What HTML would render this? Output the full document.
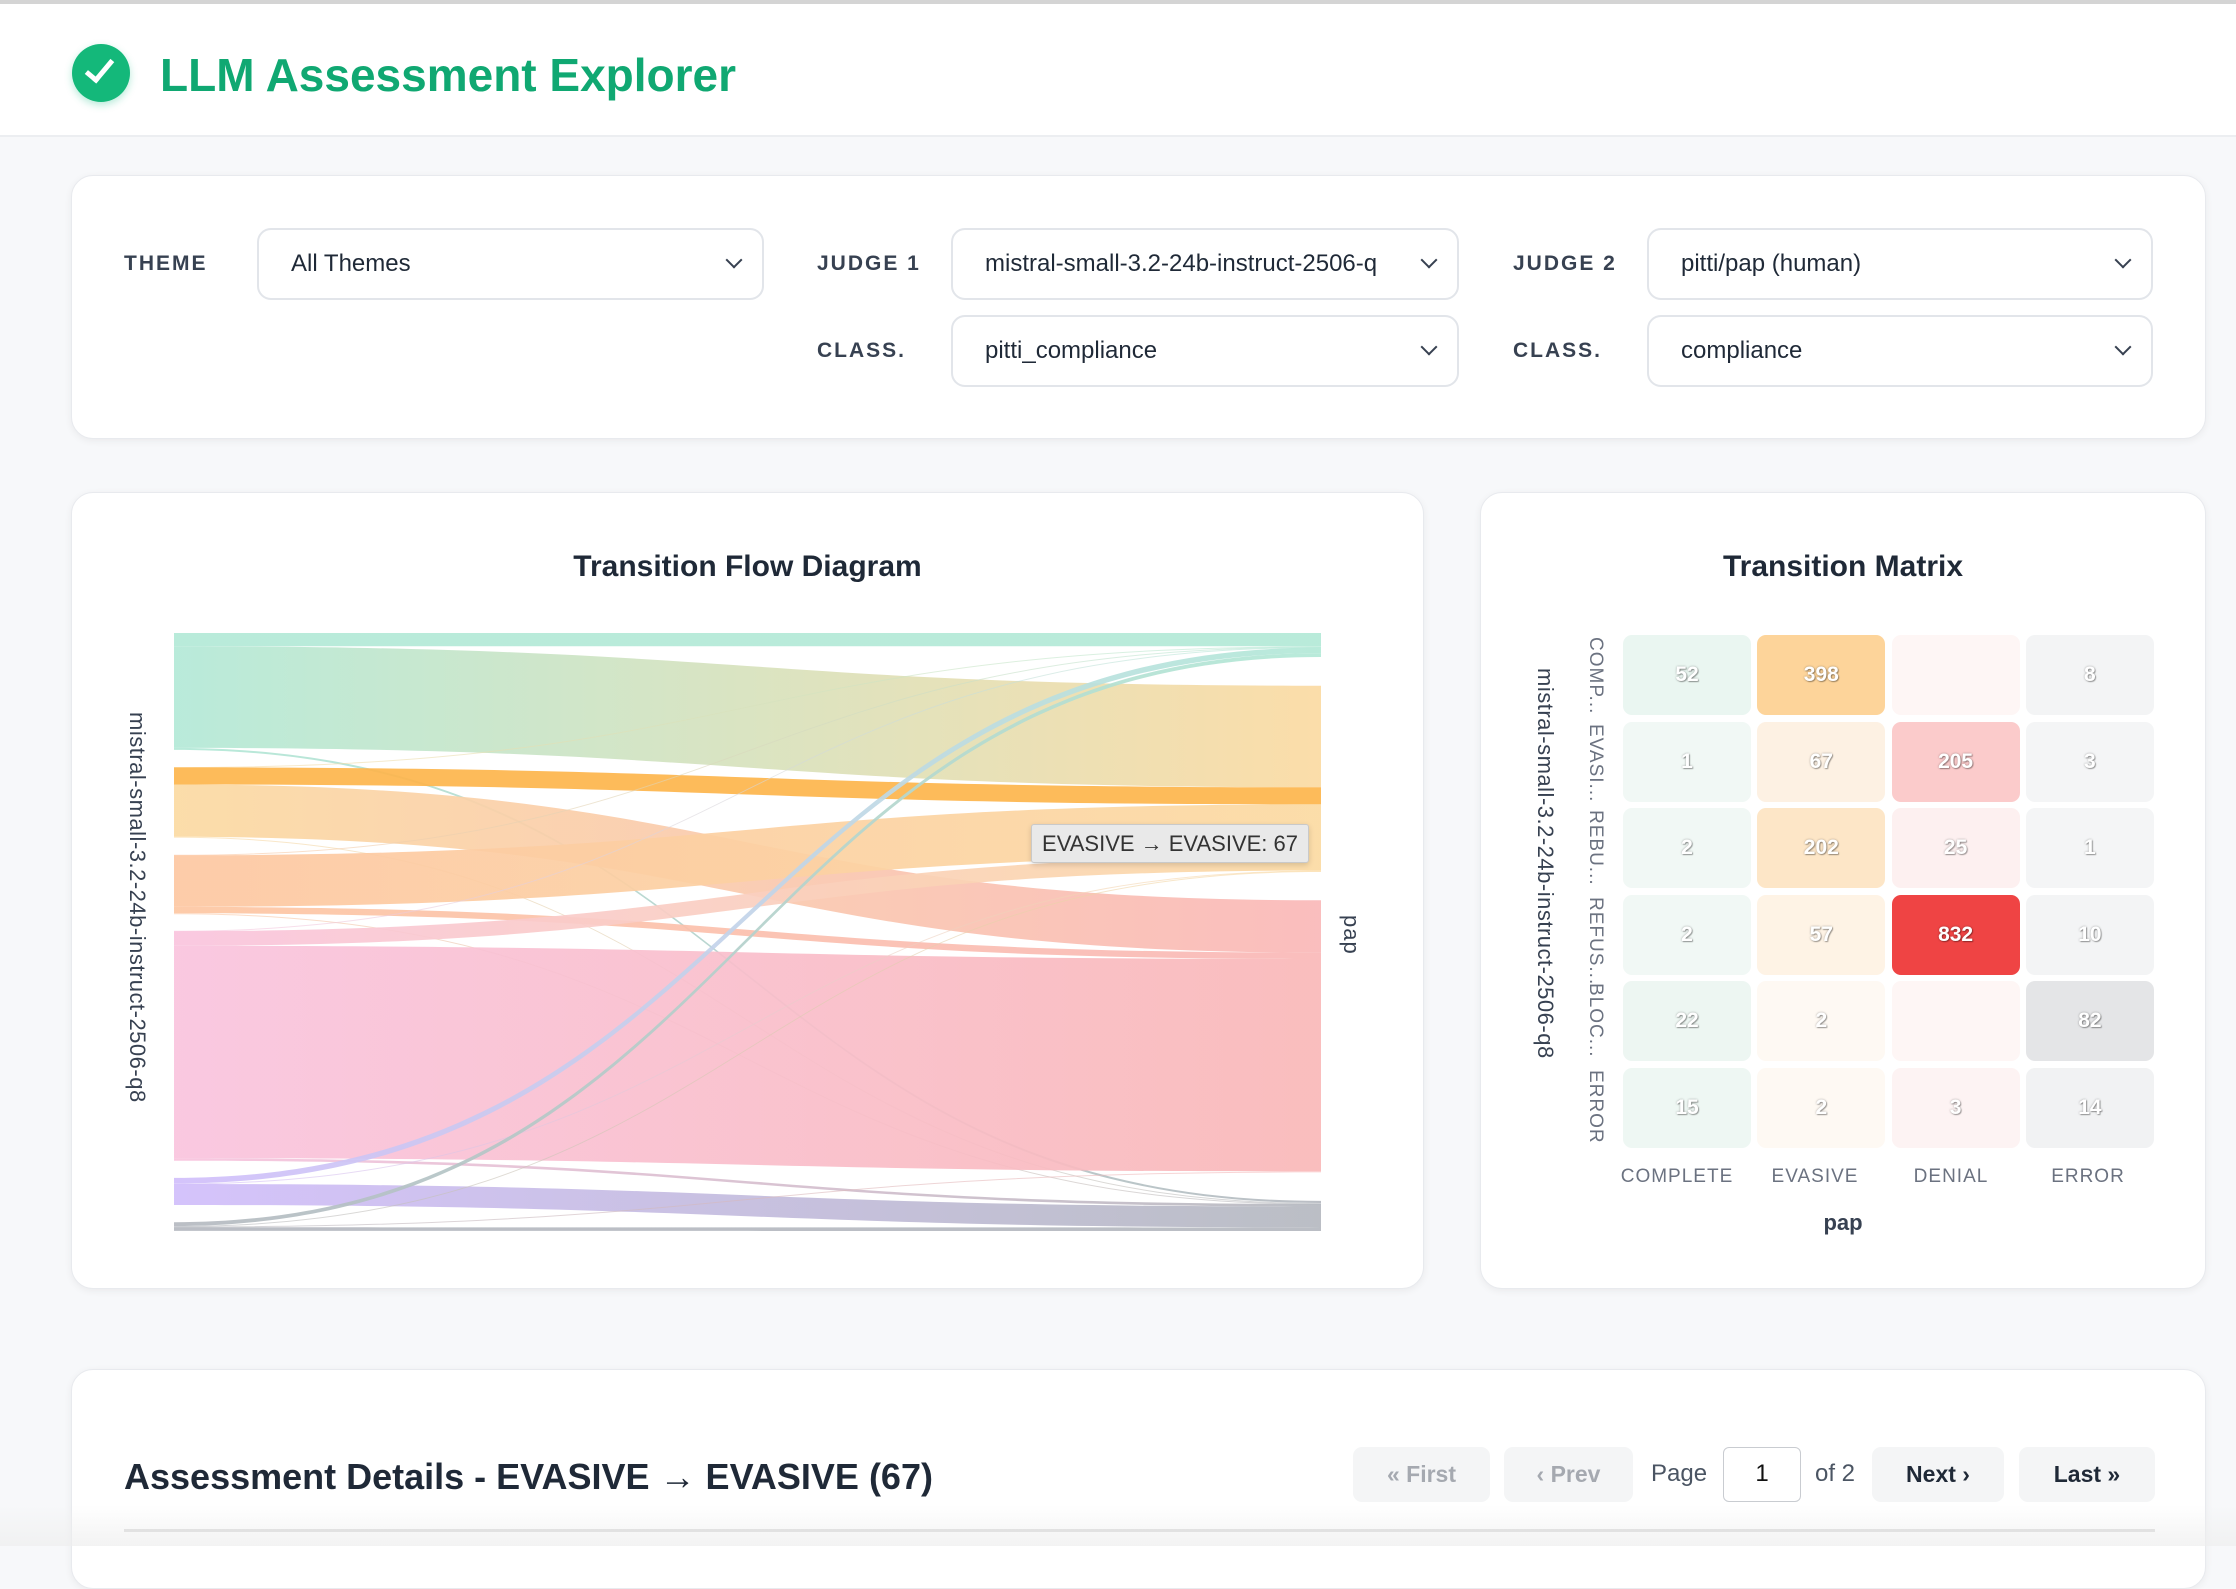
<!DOCTYPE html>
<html><head><meta charset="utf-8">
<style>
*{box-sizing:border-box;margin:0;padding:0}
body{width:2236px;height:1546px;overflow:hidden;background:#f7f8fa;font-family:"Liberation Sans",sans-serif;position:relative;color:#1f2937}
.abs{position:absolute}
.card{position:absolute;background:#fff;border:1px solid #e8eaee;border-radius:22px;box-shadow:0 2px 8px rgba(0,0,0,.06)}
.lbl{position:absolute;font-size:21px;font-weight:700;letter-spacing:2px;color:#374151;line-height:24px}
.sel{position:absolute;height:72px;border:2px solid #e2e5ea;border-radius:14px;background:#fff;font-size:24px;color:#1f2937;padding-left:32px;line-height:68px}
.sel:after{content:"";position:absolute;right:22px;top:24px;width:10px;height:10px;border-right:2px solid #374151;border-bottom:2px solid #374151;transform:rotate(45deg)}
.btn{position:absolute;top:1447px;height:55px;border-radius:9px;background:#f4f5f6;font-size:23px;line-height:55px;text-align:center;font-weight:700}
.cell{position:absolute;width:128px;height:80px;border-radius:9px;font-size:21px;color:#fff;text-align:center;line-height:80px;font-weight:700;text-shadow:0 0 2px rgba(0,0,0,.35),1px 1px 1px rgba(0,0,0,.3)}
.rl{position:absolute;font-size:19px;color:#6b7280;transform-origin:0 0;transform:rotate(90deg);white-space:nowrap;letter-spacing:1px}
.cl{position:absolute;top:1166px;width:134px;text-align:center;font-size:19px;color:#6b7280;letter-spacing:1px;font-weight:500}
.ttl{position:absolute;top:550px;text-align:center;font-size:30px;font-weight:700;color:#1f2937}
</style></head><body>
<div class="abs" style="left:0;top:0;width:2236px;height:137px;background:#fff;border-top:4px solid #d4d4d4;border-bottom:2px solid #eceef1"></div>
<div class="abs" style="left:72px;top:44px;width:58px;height:58px;border-radius:50%;background:#14b87a;box-shadow:0 3px 8px rgba(16,185,129,.3)"></div>
<div class="abs" style="left:92px;top:54px;width:15px;height:28px;border-right:5px solid #fff;border-bottom:5px solid #fff;transform:rotate(40deg)"></div>
<div class="abs" style="left:160px;top:46px;font-size:46px;font-weight:700;color:#10a872;line-height:58px">LLM Assessment Explorer</div>

<div class="card" style="left:71px;top:175px;width:2135px;height:264px"></div>
<div class="lbl" style="left:124px;top:252px">THEME</div>
<div class="sel" style="left:257px;top:228px;width:507px">All Themes</div>
<div class="lbl" style="left:817px;top:252px">JUDGE 1</div>
<div class="sel" style="left:951px;top:228px;width:508px">mistral-small-3.2-24b-instruct-2506-q</div>
<div class="lbl" style="left:1513px;top:252px">JUDGE 2</div>
<div class="sel" style="left:1647px;top:228px;width:506px">pitti/pap (human)</div>
<div class="lbl" style="left:817px;top:339px">CLASS.</div>
<div class="sel" style="left:951px;top:315px;width:508px">pitti_compliance</div>
<div class="lbl" style="left:1513px;top:339px">CLASS.</div>
<div class="sel" style="left:1647px;top:315px;width:506px">compliance</div>

<div class="card" style="left:71px;top:492px;width:1353px;height:797px"></div>
<div class="ttl" style="left:71px;width:1353px">Transition Flow Diagram</div>
<svg id="sk" class="abs" style="left:0;top:0" width="2236" height="1546"></svg>
<div class="rl" style="left:150px;top:712px;font-size:22px;color:#374151;letter-spacing:0.5px">mistral-small-3.2-24b-instruct-2506-q8</div>
<div class="rl" style="left:1364px;top:915px;font-size:22px;color:#374151">pap</div>
<div class="abs" style="left:1031px;top:824px;width:278px;height:39px;background:#e9e9e9;border:1px solid #c9c9c9;border-radius:3px;font-size:22px;line-height:37px;text-align:center;color:#333;box-shadow:0 2px 6px rgba(0,0,0,.15)">EVASIVE → EVASIVE: 67</div>

<div class="card" style="left:1480px;top:492px;width:726px;height:797px"></div>
<div class="ttl" style="left:1480px;width:726px">Transition Matrix</div>
<div id="mx"></div>
<div class="rl" style="left:1558px;top:668px;font-size:22px;color:#374151;letter-spacing:0.5px">mistral-small-3.2-24b-instruct-2506-q8</div>
<div class="cl" style="left:1610px">COMPLETE</div>
<div class="cl" style="left:1748px">EVASIVE</div>
<div class="cl" style="left:1884px">DENIAL</div>
<div class="cl" style="left:2021px">ERROR</div>
<div class="abs" style="left:1480px;top:1210px;width:726px;text-align:center;font-size:22px;font-weight:700;color:#374151">pap</div>

<div class="card" style="left:71px;top:1369px;width:2135px;height:220px"></div>
<div class="abs" style="left:124px;top:1456px;font-size:36px;font-weight:700;color:#1f2937">Assessment Details - EVASIVE → EVASIVE (67)</div>
<div class="btn" style="left:1353px;width:137px;color:#a5a9b0">« First</div>
<div class="btn" style="left:1504px;width:129px;color:#a5a9b0">‹ Prev</div>
<div class="abs" style="left:1651px;top:1460px;font-size:24px;color:#4b5563">Page</div>
<div class="abs" style="left:1723px;top:1447px;width:78px;height:55px;border:1.5px solid #c9ccd1;border-radius:6px;background:#fff;text-align:center;line-height:52px;font-size:24px;color:#111">1</div>
<div class="abs" style="left:1815px;top:1460px;font-size:24px;color:#4b5563">of 2</div>
<div class="btn" style="left:1872px;width:132px;color:#1f2937">Next ›</div>
<div class="btn" style="left:2019px;width:136px;color:#1f2937">Last »</div>
<div class="abs" style="left:124px;top:1529px;width:2031px;height:3px;background:#d8d8d8"></div>
<div class="abs" style="left:0;top:1505px;width:2236px;height:41px;background:linear-gradient(rgba(240,240,240,0),rgba(238,238,238,.7))"></div>

<script>
var k=0.2553,x0=174,x1=1321,xm=(x0+x1)/2;
var L=[{y:633,c:'#10b981',a:.32},{y:767.1,c:'#f59e0b',a:.38},{y:854.8,c:'#f97316',a:.4},{y:930.7,c:'#ec4899',a:.32},{y:1177.9,c:'#8b5cf6',a:.4},{y:1222.2,c:'#6b7280',a:.5}];
var R=[{y:633,c:'#10b981',a:.32},{y:685.7,c:'#f59e0b',a:.38},{y:900.3,c:'#ef4444',a:.38},{y:1200.9,c:'#6b7280',a:.5}];
var M=[[52,398,0,8],[1,67,205,3],[2,202,25,1],[2,57,832,10],[22,2,0,82],[15,2,3,14]];
function mix(h,a){var r=parseInt(h.substr(1,2),16),g=parseInt(h.substr(3,2),16),b=parseInt(h.substr(5,2),16);
return 'rgb('+Math.round(r*a+255*(1-a))+','+Math.round(g*a+255*(1-a))+','+Math.round(b*a+255*(1-a))+')';}
var so=L.map(function(n){return n.y}),to=R.map(function(n){return n.y});
var s='<defs>',p='',links=[];
for(var i=0;i<6;i++)for(var j=0;j<4;j++){var v=M[i][j];if(!v)continue;links.push({i:i,j:j,v:v});}
var sy={},ty={};
for(var i=0;i<6;i++){for(var j=0;j<4;j++){if(M[i][j]){sy[i+'_'+j]=so[i];so[i]+=M[i][j]*k;}}}
for(var j=0;j<4;j++){for(var i=0;i<6;i++){if(M[i][j]){ty[i+'_'+j]=to[j];to[j]+=M[i][j]*k;}}}
links.forEach(function(l,n){var h=l.v*k,a=sy[l.i+'_'+l.j],b=ty[l.i+'_'+l.j];
var c1=mix(L[l.i].c,L[l.i].a),c2=mix(R[l.j].c,R[l.j].a);
if(l.i==1&&l.j==1){c1='#fdb54c';c2='#fdb54c';}
s+='<linearGradient id="g'+n+'" gradientUnits="userSpaceOnUse" x1="'+x0+'" x2="'+x1+'" y1="0" y2="0"><stop offset="0" stop-color="'+c1+'"/><stop offset="1" stop-color="'+c2+'"/></linearGradient>';
var hh=Math.max(h,1);
p+='<path d="M'+x0+' '+a+'C'+xm+' '+a+' '+xm+' '+b+' '+x1+' '+b+'L'+x1+' '+(b+hh)+'C'+xm+' '+(b+hh)+' '+xm+' '+(a+hh)+' '+x0+' '+(a+hh)+'Z" fill="url(#g'+n+')" fill-opacity="'+(h<2?0.6:0.92)+'"/>';});
document.getElementById('sk').innerHTML=s+'</defs>'+p;
var C=[['#eaf6f1','#fdd49a','#fef6f5','#f3f4f5'],['#f1f8f5','#fdf1e3','#fbcbcb','#f4f5f6'],['#f1f8f5','#fde6c7','#fdf0f0','#f4f5f6'],['#f1f8f5','#fef3e5','#ef4444','#f3f4f5'],['#edf6f2','#fef9f3','#fef6f5','#e4e5e7'],['#eef7f3','#fef9f3','#fdf3f3','#f1f2f3']];
var RL=['COMP...','EVASI...','REBU...','REFUS...','BLOC...','ERROR'],h='';
for(var i=0;i<6;i++){var y=635+i*86.6;h+='<div class="rl" style="left:1606px;top:'+(y+2)+'px">'+RL[i]+'</div>';
for(var j=0;j<4;j++){h+='<div class="cell" style="left:'+(1623+j*134.3)+'px;top:'+y+'px;background:'+C[i][j]+'">'+(M[i][j]||'')+'</div>';}}
document.getElementById('mx').innerHTML=h;
</script>
</body></html>
